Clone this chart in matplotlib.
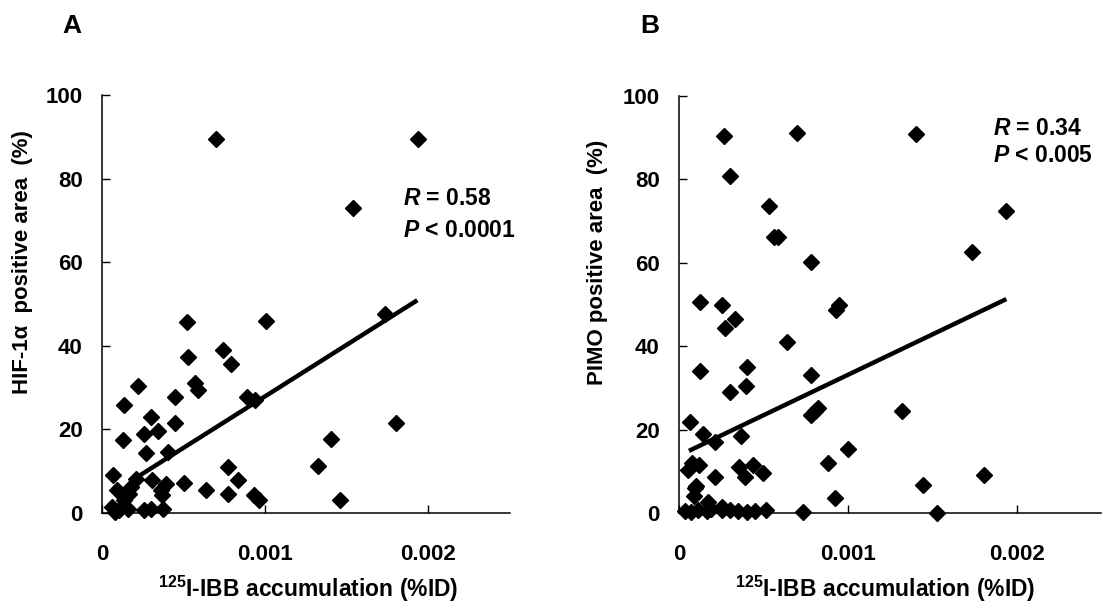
import matplotlib
matplotlib.use("Agg")
import matplotlib.pyplot as plt
import numpy as np

plt.rcParams['font.family'] = ['Liberation Sans', 'DejaVu Sans']
plt.rcParams['font.weight'] = 'bold'
plt.rcParams['mathtext.fontset'] = 'custom'
plt.rcParams['mathtext.rm'] = 'Liberation Sans:bold'
plt.rcParams['mathtext.bf'] = 'Liberation Sans:bold'
plt.rcParams['mathtext.it'] = 'Liberation Sans:bold:italic'

# panel A: 125I-IBB accumulation (x 1e-3 %ID) vs HIF-1a positive area (%)
hif_x = [0.701, 1.938, 1.536, 1.732, 1.804, 1.402, 1.322, 1.458, 0.522, 1.004,
         0.744, 0.530, 0.790, 0.567, 0.588, 0.223, 0.447, 0.891, 0.938, 0.136,
         0.299, 0.447, 0.258, 0.346, 0.130, 0.270, 0.402, 0.068, 0.773, 0.835,
         0.639, 0.773, 0.930, 0.959, 0.501, 0.210, 0.309, 0.392, 0.361, 0.093,
         0.175, 0.062, 0.103, 0.159, 0.258, 0.371, 0.134, 0.300, 0.082, 0.370,
         0.165]
hif_y = [89.4, 89.4, 72.9, 47.6, 21.5, 17.8, 11.3, 3.2, 45.6, 46.0,
         39.1, 37.4, 35.6, 31.0, 29.5, 30.3, 27.8, 27.8, 27.0, 25.8,
         23.0, 21.6, 19.0, 19.6, 17.4, 14.4, 14.6, 9.0, 11.0, 8.0,
         5.4, 4.5, 4.4, 3.0, 7.2, 8.2, 7.8, 7.0, 5.4, 5.4,
         6.2, 1.4, 0.8, 1.0, 0.6, 1.0, 3.0, 1.0, 0.2, 4.2,
         4.6]
hif_fit_x = [0.216, 1.932]
hif_fit_y = [8.6, 50.9]

# panel B: 125I-IBB accumulation vs PIMO positive area (%)
pimo_x = [0.265, 0.697, 1.402, 0.301, 0.531, 1.939, 0.562, 0.588, 1.735, 0.780,
          0.127, 0.253, 0.331, 0.271, 0.931, 0.949, 0.638, 0.127, 0.404, 0.396,
          0.301, 0.780, 0.780, 0.826, 0.806, 1.323, 0.063, 0.143, 0.212, 0.370,
          1.000, 0.885, 1.806, 1.446, 0.925, 1.529, 0.733, 0.079, 0.119, 0.053,
          0.216, 0.356, 0.390, 0.440, 0.495, 0.093, 0.103, 0.087, 0.172, 0.252,
          0.034, 0.074, 0.111, 0.163, 0.192, 0.252, 0.301, 0.349, 0.400, 0.449,
          0.518]
pimo_y = [90.5, 91.2, 90.8, 80.8, 73.7, 72.5, 66.3, 66.3, 62.5, 60.3,
          50.6, 49.9, 46.6, 44.3, 48.6, 49.9, 41.1, 34.1, 34.9, 30.5,
          29.0, 33.0, 23.6, 25.2, 24.4, 24.4, 21.8, 19.0, 17.0, 18.5,
          15.4, 12.0, 9.2, 6.8, 3.6, 0.0, 0.2, 12.0, 11.6, 10.4,
          8.6, 11.0, 8.6, 11.4, 9.6, 6.0, 6.4, 4.1, 2.7, 1.5,
          0.5, 0.3, 0.8, 0.4, 1.0, 0.6, 0.8, 0.4, 0.3, 0.4,
          0.6]
pimo_fit_x = [0.059, 1.939]
pimo_fit_y = [14.9, 51.3]

x_ticks = [0, 0.001, 0.002]
x_ticklabels = ['0', '0.001', '0.002']
y_ticks = [0, 20, 40, 60, 80, 100]

W, H = 1103, 610
fig = plt.figure(figsize=(W / 100, H / 100), dpi=100)


def px(x, y):
    return x / W, 1 - y / H


panels = [
    dict(rect=[102 / W, 97 / H, 408 / W, 418 / H], x=hif_x, y=hif_y,
         fx=hif_fit_x, fy=hif_fit_y, letter='A', lpos=(62, 33),
         ylabel='HIF-1α  positive area  (%)', ylpos=(23, 262),
         stats=('$R$ = 0.58', '$P$ < 0.0001'), spos=(403, 205, 237),
         xlpos=(308, 597)),
    dict(rect=[679 / W, 97 / H, 422 / W, 417 / H], x=pimo_x, y=pimo_y,
         fx=pimo_fit_x, fy=pimo_fit_y, letter='B', lpos=(640, 33),
         ylabel='PIMO positive area  (%)', ylpos=(598, 262),
         stats=('$R$ = 0.34', '$P$ < 0.005'), spos=(993, 135, 162),
         xlpos=(885, 597)),
]

for p in panels:
    ax = fig.add_axes(p['rect'])
    xs = np.array(p['x']) * 1e-3
    ax.plot(xs, p['y'], 'D', color='black', ms=8.5, mew=1, clip_on=False, zorder=3)
    ax.plot(np.array(p['fx']) * 1e-3, p['fy'], color='black', lw=3.2, solid_capstyle='butt')
    ax.set_xlim(0, 0.0025)
    ax.set_ylim(0, 100)
    ax.set_xticks(x_ticks)
    ax.set_xticklabels(x_ticklabels)
    ax.set_yticks(y_ticks)
    ax.spines['top'].set_visible(False)
    ax.spines['right'].set_visible(False)
    for s in ('left', 'bottom'):
        ax.spines[s].set_linewidth(1.1)
    ax.tick_params(axis='both', direction='in', length=6, width=1, labelsize=16)
    ax.tick_params(axis='x', pad=22)
    ax.tick_params(axis='y', pad=14)
    for lab in ax.get_xticklabels() + ax.get_yticklabels():
        lab.set_fontweight('bold')

    fig.text(*px(*p['lpos']), p['letter'], fontsize=19, fontweight='bold',
             ha='left', va='baseline')
    fig.text(*px(*p['ylpos']), p['ylabel'], fontsize=16, fontweight='bold',
             rotation=90, ha='center', va='center')
    fig.text(*px(*p['xlpos']), '$^{125}$I-IBB accumulation (%ID)', fontsize=16.5,
             fontweight='bold', ha='center', va='baseline')
    sx, sy1, sy2 = p['spos']
    fig.text(*px(sx, sy1), p['stats'][0], fontsize=16.5, fontweight='bold',
             ha='left', va='baseline')
    fig.text(*px(sx, sy2), p['stats'][1], fontsize=16.5, fontweight='bold',
             ha='left', va='baseline')

fig.savefig('out.png', dpi=100, facecolor='white')
